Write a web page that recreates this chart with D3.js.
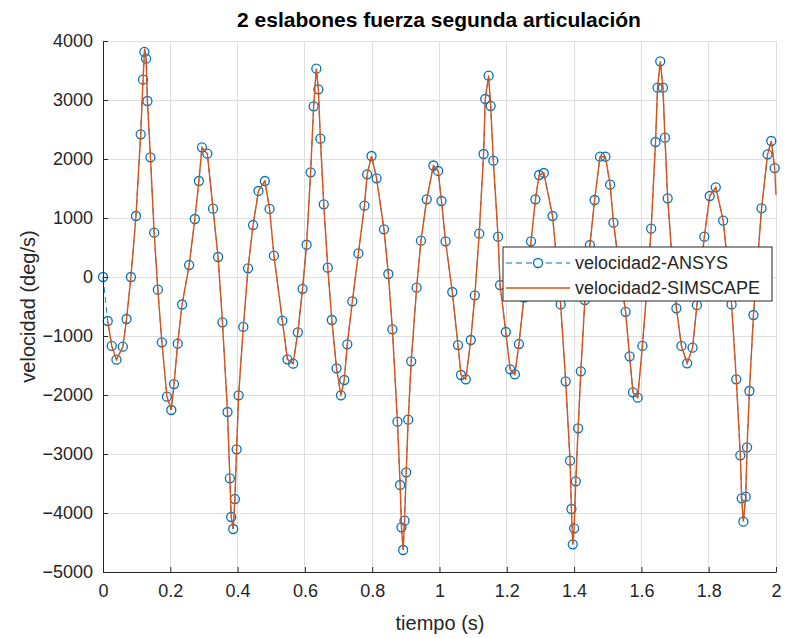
<!DOCTYPE html>
<html><head><meta charset="utf-8">
<script src="https://cdn.jsdelivr.net/npm/d3@7"></script>
<style>body{margin:0;background:#fff;} svg{display:block;font-family:"Liberation Sans",Arial,sans-serif;}</style>
</head><body>
<svg id="c" width="786" height="638"></svg>
<script>
const titleText = "2 eslabones fuerza segunda articulación";
const xLabel = "tiempo (s)";
const yLabel = "velocidad (deg/s)";
const seriesNames = ["velocidad2-ANSYS", "velocidad2-SIMSCAPE"];
const xTicks = [0,0.2,0.4,0.6,0.8,1,1.2,1.4,1.6,1.8,2];
const yTicks = [-5000,-4000,-3000,-2000,-1000,0,1000,2000,3000,4000];

const ansysT = [0.000,0.014,0.026,0.040,0.059,0.070,0.083,0.098,0.112,0.119,0.123,0.128,0.132,0.141,0.152,0.163,0.175,0.190,0.203,0.211,0.222,0.235,0.256,0.273,0.285,0.294,0.310,0.327,0.342,0.355,0.370,0.377,0.381,0.387,0.392,0.397,0.403,0.417,0.431,0.446,0.462,0.481,0.495,0.508,0.533,0.548,0.565,0.579,0.593,0.605,0.617,0.626,0.634,0.640,0.646,0.656,0.668,0.680,0.694,0.707,0.717,0.726,0.741,0.759,0.777,0.785,0.798,0.813,0.835,0.848,0.860,0.875,0.883,0.887,0.892,0.896,0.901,0.907,0.916,0.932,0.945,0.962,0.982,0.996,1.006,1.018,1.038,1.055,1.064,1.078,1.093,1.105,1.118,1.131,1.136,1.146,1.152,1.160,1.174,1.180,1.197,1.210,1.224,1.236,1.251,1.272,1.285,1.296,1.310,1.336,1.348,1.360,1.375,1.388,1.392,1.396,1.400,1.405,1.412,1.420,1.432,1.447,1.461,1.477,1.493,1.507,1.517,1.530,1.541,1.553,1.565,1.575,1.589,1.603,1.616,1.629,1.642,1.648,1.656,1.664,1.670,1.678,1.690,1.704,1.719,1.736,1.752,1.765,1.776,1.787,1.803,1.821,1.843,1.856,1.868,1.882,1.894,1.898,1.903,1.910,1.914,1.921,1.933,1.945,1.957,1.975,1.986,1.996];
const ansysV = [0,-746,-1169,-1401,-1181,-712,0,1034,2419,3344,3814,3700,2983,2028,751,-215,-1107,-2028,-2254,-1814,-1130,-466,203,983,1627,2198,2090,1158,339,-768,-2288,-3412,-4068,-4271,-3763,-2921,-2006,-847,147,881,1458,1627,1153,361,-740,-1395,-1469,-938,-200,547,1774,2893,3531,3181,2345,1232,158,-729,-1548,-2006,-1746,-1141,-412,401,1209,1740,2051,1672,808,51,-887,-2452,-3525,-4243,-4627,-4130,-3311,-2418,-1429,-181,616,1317,1890,1797,1288,605,-254,-1153,-1661,-1734,-1068,-311,735,2085,3017,3412,2898,1972,684,-136,-932,-1565,-1650,-1136,-350,605,1317,1729,1763,1034,300,-465,-1768,-3113,-3932,-4531,-4260,-3463,-2565,-1599,-390,542,1305,2040,2040,1565,921,350,-100,-590,-1345,-1955,-2045,-1169,-220,819,2288,3209,3656,3209,2361,1334,400,-530,-1169,-1463,-1198,-478,100,683,1373,1520,954,250,-465,-1734,-3022,-3751,-4147,-3723,-2887,-1932,-644,250,1164,2080,2305,1847];

// SIMSCAPE curve: follows the same readings (from the second sample on) plus its own peak tip and end value
const simExtraT = [0.124, 2.000];
const simExtraV = [3870, 1390];

const W = 786, H = 638;
const m = {l:103, r:10, t:41, b:66};
const svg = d3.select("#c");
const x = d3.scaleLinear().domain([0,2]).range([m.l, W-m.r]);
const y = d3.scaleLinear().domain([-5000,4000]).range([H-m.b, m.t]);

const blue = "#0072BD", orange = "#D95319", axisCol = "#262626", gridCol = "#dfdfdf";

// grid
const g = svg.append("g");
g.selectAll(".vg").data(xTicks).enter().append("line")
  .attr("x1", d=>x(d)).attr("x2", d=>x(d)).attr("y1", m.t).attr("y2", H-m.b)
  .attr("stroke", gridCol).attr("stroke-width", 1).attr("shape-rendering","crispEdges");
g.selectAll(".hg").data(yTicks).enter().append("line")
  .attr("x1", m.l).attr("x2", W-m.r).attr("y1", d=>y(d)).attr("y2", d=>y(d))
  .attr("stroke", gridCol).attr("stroke-width", 1).attr("shape-rendering","crispEdges");

// data
const ansys = ansysT.map((t,i)=>({t, v:ansysV[i]}));
const sim = ansys.slice(1).concat(simExtraT.map((t,i)=>({t, v:simExtraV[i]}))).sort((a,b)=>a.t-b.t);

const line = d3.line().x(d=>x(d.t)).y(d=>y(d.v));
svg.append("path").datum(ansys).attr("d", line).attr("fill","none")
  .attr("stroke", blue).attr("stroke-width",0.9).attr("stroke-dasharray","6,4");
svg.append("g").selectAll("circle").data(ansys).enter().append("circle")
  .attr("cx", d=>x(d.t)).attr("cy", d=>y(d.v)).attr("r",4.5)
  .attr("fill","none").attr("stroke", blue).attr("stroke-width",1.3);
svg.append("path").datum(sim).attr("d", line).attr("fill","none")
  .attr("stroke", orange).attr("stroke-width",1.4);

// axes
const xAxis = d3.axisBottom(x).tickValues(xTicks).tickFormat(d3.format("~g")).tickSizeInner(-5).tickSizeOuter(0).tickPadding(12);
const yAxis = d3.axisLeft(y).tickValues(yTicks).tickFormat(d3.format("d")).tickSizeInner(-5).tickSizeOuter(0).tickPadding(10);
const gx = svg.append("g").attr("transform",`translate(0,${H-m.b})`).call(xAxis);
const gy = svg.append("g").attr("transform",`translate(${m.l},0)`).call(yAxis);
[gx,gy].forEach(a=>{
  a.select(".domain").attr("stroke",axisCol).attr("stroke-width",1);
  a.selectAll(".tick line").attr("stroke",axisCol);
  a.selectAll("text").attr("fill",axisCol).style("font-size","18px").style("font-family",'"Liberation Sans",Arial,sans-serif');
});

// title & labels
svg.append("text").attr("x", 439).attr("y", 27).attr("text-anchor","middle")
  .style("font-size","21px").style("font-weight","bold").attr("fill","#000").text(titleText);
svg.append("text").attr("x", 440).attr("y", 630).attr("text-anchor","middle")
  .style("font-size","20px").attr("fill",axisCol).text(xLabel);
svg.append("text").attr("transform",`translate(35,${(m.t+H-m.b)/2}) rotate(-90)`).attr("text-anchor","middle")
  .style("font-size","20px").attr("fill",axisCol).text(yLabel);

// legend
const lg = svg.append("g");
lg.append("rect").attr("x",503).attr("y",247).attr("width",269).attr("height",54)
  .attr("fill","#fff").attr("stroke",axisCol).attr("stroke-width",1);
const rows = [263, 288];
lg.append("line").attr("x1",506).attr("x2",570).attr("y1",rows[0]).attr("y2",rows[0])
  .attr("stroke",blue).attr("stroke-width",1.2).attr("stroke-dasharray","6,4");
lg.append("circle").attr("cx",538).attr("cy",rows[0]).attr("r",4.5).attr("fill","#fff").attr("stroke",blue).attr("stroke-width",1.3);
lg.append("line").attr("x1",506).attr("x2",570).attr("y1",rows[1]).attr("y2",rows[1])
  .attr("stroke",orange).attr("stroke-width",1.4);
seriesNames.forEach((n,i)=>{
  lg.append("text").attr("x",575).attr("y",rows[i]+6).style("font-size","18px").attr("fill",axisCol).text(n);
});
</script>
</body></html>
